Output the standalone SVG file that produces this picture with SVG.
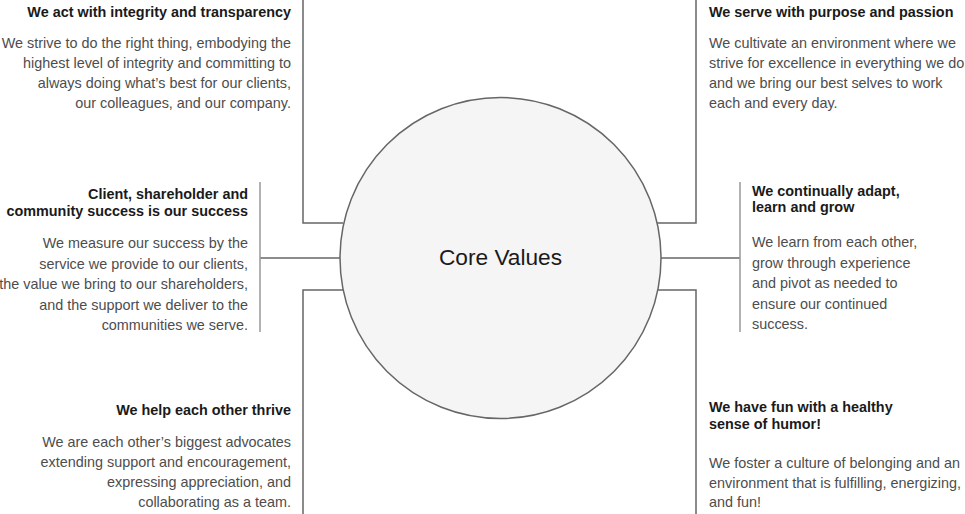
<svg xmlns="http://www.w3.org/2000/svg" width="965" height="514" viewBox="0 0 965 514">
<style>
.t{font-family:"Liberation Sans",Arial,sans-serif;font-size:14.4px;font-weight:bold;fill:#1a1a1a}
.b{font-family:"Liberation Sans",Arial,sans-serif;font-size:14.4px;fill:#4d4d4d}
.r{text-anchor:end}
.ln{fill:none;stroke:#666;stroke-width:1.5}
.lv{fill:none;stroke:#999;stroke-width:1.5}
</style>
<rect width="965" height="514" fill="#fff"/>
<g id="connectors">
<path class="ln" d="M303,0 V223 H343"/>
<path class="ln" d="M303,514 V290 H343"/>
<path class="ln" d="M260,258 H340"/>
<path class="lv" d="M260,182 V332"/>
<path class="ln" d="M696,0 V223 H657"/>
<path class="ln" d="M696,514 V290 H657"/>
<path class="ln" d="M740,258 H661"/>
<path class="lv" d="M740,182 V332"/>
</g>
<g id="core">
<circle cx="500.5" cy="258" r="160.5" fill="#f5f5f5" stroke="#666" stroke-width="1.5"/>
<text x="500.5" y="265" text-anchor="middle" font-family="Liberation Sans,Arial,sans-serif" font-size="22.7" fill="#1a1a1a">Core Values</text>
</g>
<g id="integrity">
<text class="t r" x="291" y="16.5">We act with integrity and transparency</text>
<text class="b r" x="291" y="47.5">We strive to do the right thing, embodying the</text>
<text class="b r" x="291" y="67.5">highest level of integrity and committing to</text>
<text class="b r" x="291" y="87.5">always doing what’s best for our clients,</text>
<text class="b r" x="291" y="107.5">our colleagues, and our company.</text>
</g>
<g id="purpose">
<text class="t" x="709" y="16.5">We serve with purpose and passion</text>
<text class="b" x="709" y="47.5">We cultivate an environment where we</text>
<text class="b" x="709" y="67.5">strive for excellence in everything we do</text>
<text class="b" x="709" y="87.5">and we bring our best selves to work</text>
<text class="b" x="709" y="107.5">each and every day.</text>
</g>
<g id="success">
<text class="t r" x="248" y="198.5">Client, shareholder and</text>
<text class="t r" x="248" y="215.5">community success is our success</text>
<text class="b r" x="248" y="248">We measure our success by the</text>
<text class="b r" x="248" y="268.5">service we provide to our clients,</text>
<text class="b r" x="248" y="289">the value we bring to our shareholders,</text>
<text class="b r" x="248" y="309.5">and the support we deliver to the</text>
<text class="b r" x="248" y="330">communities we serve.</text>
</g>
<g id="adapt">
<text class="t" x="752" y="195.5">We continually adapt,</text>
<text class="t" x="752" y="211.5">learn and grow</text>
<text class="b" x="752" y="247">We learn from each other,</text>
<text class="b" x="752" y="267.5">grow through experience</text>
<text class="b" x="752" y="288">and pivot as needed to</text>
<text class="b" x="752" y="308.5">ensure our continued</text>
<text class="b" x="752" y="329">success.</text>
</g>
<g id="thrive">
<text class="t r" x="291" y="414.5">We help each other thrive</text>
<text class="b r" x="291" y="446.5">We are each other’s biggest advocates</text>
<text class="b r" x="291" y="466.5">extending support and encouragement,</text>
<text class="b r" x="291" y="486.5">expressing appreciation, and</text>
<text class="b r" x="291" y="506.5">collaborating as a team.</text>
</g>
<g id="fun">
<text class="t" x="709" y="412">We have fun with a healthy</text>
<text class="t" x="709" y="429">sense of humor!</text>
<text class="b" x="709" y="468">We foster a culture of belonging and an</text>
<text class="b" x="709" y="487.5">environment that is fulfilling, energizing,</text>
<text class="b" x="709" y="507">and fun!</text>
</g>
</svg>
